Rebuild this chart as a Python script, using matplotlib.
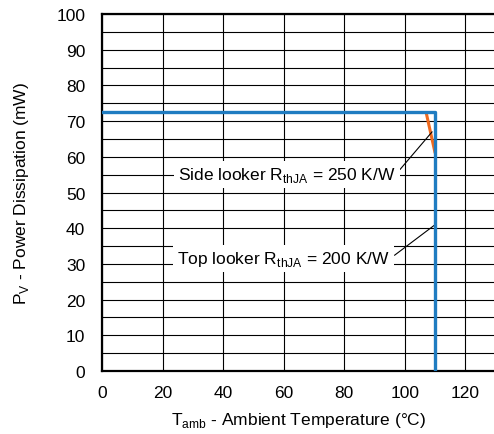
import matplotlib.pyplot as plt

plt.rcParams['font.family'] = ['Liberation Sans', 'DejaVu Sans']

# derating curves (temperature in degC, power in mW)
top_t = [0, 110, 110]
top_p = [72.5, 72.5, 0]
side_t = [107, 110]
side_p = [72.5, 61]

x_ticks = [0, 20, 40, 60, 80, 100, 120]
y_ticks = [0, 10, 20, 30, 40, 50, 60, 70, 80, 90, 100]

fig = plt.figure(figsize=(4.94, 4.35), dpi=100)
ax = fig.add_axes([0.2065, 0.1448, 0.797, 0.8207])

ax.set_xlim(0, 130)
ax.set_ylim(0, 100)
ax.set_xticks(x_ticks)
ax.set_yticks(y_ticks)
ax.set_xticks(range(0, 131, 20), minor=True)
ax.set_yticks(range(0, 101, 5), minor=True)
ax.grid(which='both', color='black', linewidth=0.8)
ax.tick_params(which='both', length=0, labelsize=12.5)
ax.tick_params(axis='x', pad=10)
ax.tick_params(axis='y', pad=12)
ax.set_axisbelow(True)
for s in ax.spines.values():
    s.set_linewidth(1.6)

ax.plot(side_t, side_p, color='#ee6a1f', linewidth=2.2, solid_capstyle='butt', zorder=3)
ax.plot(top_t, top_p, color='#1f7cc1', linewidth=2.4, zorder=4)

box = dict(boxstyle='square,pad=0.25', facecolor='white', edgecolor='none')
ax.annotate(r'Side looker R$_\mathregular{thJA}$ = 250 K/W', xy=(109, 67), xytext=(61, 55),
            ha='center', va='center', fontsize=12.5, bbox=box,
            arrowprops=dict(arrowstyle='-', color='black', lw=0.8, shrinkA=0, shrinkB=0,
                            relpos=(1.0, 0.5)))
ax.annotate(r'Top looker R$_\mathregular{thJA}$ = 200 K/W', xy=(110, 41), xytext=(60, 31.5),
            ha='center', va='center', fontsize=12.5, bbox=box,
            arrowprops=dict(arrowstyle='-', color='black', lw=0.8, shrinkA=0, shrinkB=0,
                            relpos=(1.0, 0.5)))

ax.set_xlabel(r'T$_\mathregular{amb}$ - Ambient Temperature (°C)', fontsize=12.5, labelpad=7)
ax.set_ylabel(r'P$_\mathregular{V}$ - Power Dissipation (mW)', fontsize=12.5, labelpad=18)

fig.savefig('out.png', dpi=100)
